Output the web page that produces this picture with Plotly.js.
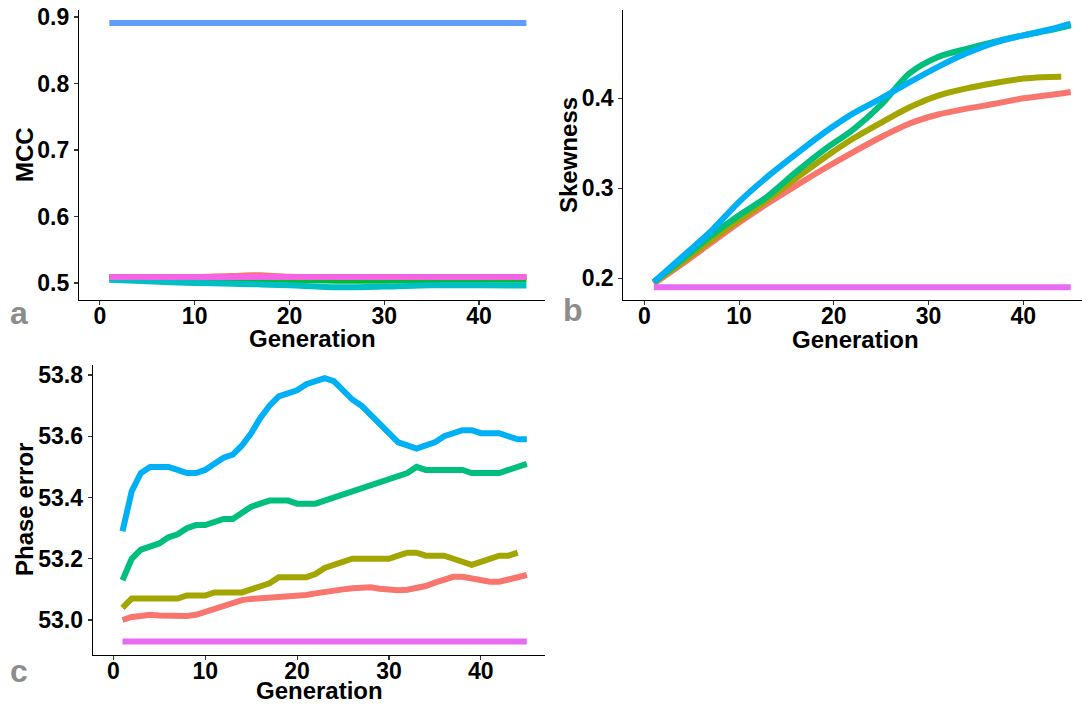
<!DOCTYPE html>
<html>
<head>
<meta charset="utf-8">
<script src="https://cdn.plot.ly/plotly-3.0.1.min.js"></script>
<style>
  html, body { margin: 0; padding: 0; background: #ffffff; overflow: hidden; }
  #chart { width: 1082px; height: 706px; }
</style>
</head>
<body>
<div id="chart"></div>
<script>
// ---------- Panel a: MCC per generation (six methods) ----------
const genA = [1, 5, 10, 14, 16, 17, 20, 25, 30, 35, 40, 45];
const mccRed     = [0.509, 0.509, 0.509, 0.5105, 0.5115, 0.5115, 0.5095, 0.509, 0.509, 0.509, 0.509, 0.509];
const mccOlive   = [0.509, 0.509, 0.509, 0.509, 0.509, 0.509, 0.509, 0.509, 0.509, 0.509, 0.509, 0.509];
const mccGreen   = [0.5075, 0.5075, 0.507, 0.506, 0.5055, 0.5052, 0.5045, 0.5035, 0.5035, 0.5045, 0.505, 0.505];
const mccTeal    = [0.505, 0.5025, 0.500, 0.4988, 0.4982, 0.4978, 0.4965, 0.4935, 0.4945, 0.4965, 0.4965, 0.4962];
const mccBlue    = [0.891, 0.891, 0.891, 0.891, 0.891, 0.891, 0.891, 0.891, 0.891, 0.891, 0.891, 0.891];
const mccMagenta = [0.509, 0.509, 0.509, 0.509, 0.509, 0.509, 0.509, 0.509, 0.509, 0.509, 0.509, 0.509];

// ---------- Panel b: skewness per generation ----------
const genB      = [1, 4, 7, 10, 13, 16, 19, 22, 25, 28, 31, 34, 37, 40, 43, 45];
const genBOlive = [1, 4, 7, 10, 13, 16, 19, 22, 25, 28, 31, 34, 37, 40, 42, 44];
const skewRed     = [0.194, 0.216, 0.239, 0.262, 0.283, 0.303, 0.322, 0.340, 0.357, 0.372, 0.382, 0.3885, 0.394, 0.400, 0.404, 0.407];
const skewOlive   = [0.195, 0.218, 0.242, 0.265, 0.287, 0.311, 0.334, 0.355, 0.373, 0.390, 0.403, 0.411, 0.417, 0.422, 0.4235, 0.424];
const skewGreen   = [0.196, 0.221, 0.247, 0.270, 0.291, 0.318, 0.343, 0.365, 0.393, 0.428, 0.446, 0.455, 0.463, 0.470, 0.476, 0.481];
const skewBlue    = [0.196, 0.224, 0.252, 0.285, 0.313, 0.338, 0.362, 0.383, 0.400, 0.418, 0.435, 0.450, 0.462, 0.470, 0.477, 0.483];
const skewMagenta = [0.190, 0.190, 0.190, 0.190, 0.190, 0.190, 0.190, 0.190, 0.190, 0.190, 0.190, 0.190, 0.190, 0.190, 0.190, 0.190];

// ---------- Panel c: phase error per generation ----------
const genC = Array.from({length: 45}, (_, i) => i + 1);
const phaseRed = [
  53.000, 53.010, 53.013, 53.017, 53.015, 53.014, 53.013, 53.013, 53.017, 53.027,
  53.038, 53.049, 53.058, 53.065, 53.069, 53.071, 53.072, 53.073, 53.075, 53.078,
  53.082, 53.087, 53.093, 53.096, 53.100, 53.104, 53.107, 53.107, 53.102, 53.098,
  53.097, 53.099, 53.103, 53.111, 53.122, 53.134, 53.141, 53.141, 53.136, 53.127,
  53.125, 53.125, 53.131, 53.136, 53.147];
const phaseOlive = [
  53.04, 53.07, 53.07, 53.07, 53.07, 53.07, 53.07, 53.08, 53.08, 53.08,
  53.09, 53.09, 53.09, 53.09, 53.10, 53.11, 53.12, 53.14, 53.14, 53.14,
  53.14, 53.15, 53.17, 53.18, 53.19, 53.20, 53.20, 53.20, 53.20, 53.20,
  53.21, 53.22, 53.22, 53.21, 53.21, 53.21, 53.20, 53.19, 53.18, 53.19,
  53.20, 53.21, 53.21, 53.22];
const phaseGreen = [
  53.13, 53.20, 53.23, 53.24, 53.25, 53.27, 53.28, 53.30, 53.31, 53.31,
  53.32, 53.33, 53.33, 53.35, 53.37, 53.38, 53.39, 53.39, 53.39, 53.38,
  53.38, 53.38, 53.39, 53.40, 53.41, 53.42, 53.43, 53.44, 53.45, 53.46,
  53.47, 53.48, 53.50, 53.49, 53.49, 53.49, 53.49, 53.49, 53.48, 53.48,
  53.48, 53.48, 53.49, 53.50, 53.51];
const phaseBlue = [
  53.29, 53.42, 53.48, 53.50, 53.50, 53.50, 53.49, 53.48, 53.48, 53.49,
  53.51, 53.53, 53.54, 53.57, 53.61, 53.66, 53.70, 53.73, 53.74, 53.75,
  53.77, 53.78, 53.79, 53.78, 53.75, 53.72, 53.70, 53.67, 53.64, 53.61,
  53.58, 53.57, 53.56, 53.57, 53.58, 53.60, 53.61, 53.62, 53.62, 53.61,
  53.61, 53.61, 53.60, 53.59, 53.59];
const phaseMagenta = genC.map(() => 52.93);

// Tick positions
const genTicks = [0, 10, 20, 30, 40];
const mccTicks = [0.5, 0.6, 0.7, 0.8, 0.9];
const skewTicks = [0.2, 0.3, 0.4];
const phaseTicks = [53.0, 53.2, 53.4, 53.6, 53.8];

// Palettes (six-hue for MCC, five-hue for the others)
const pal6 = ['#F8766D', '#B79F00', '#00BA38', '#00BFC4', '#619CFF', '#F564E3'];
const pal5 = ['#F8766D', '#A3A500', '#00BF7D', '#00B0F6', '#E76BF3'];

function line(x, y, color, xa, ya, shape) {
  return {
    type: 'scatter', mode: 'lines', x: x, y: y,
    xaxis: xa, yaxis: ya, showlegend: false, hoverinfo: 'skip',
    line: {color: color, width: 6, shape: shape || 'linear', smoothing: 0.8}
  };
}

const traces = [
  line(genA, mccRed,     pal6[0], 'x', 'y', 'spline'),
  line(genA, mccOlive,   pal6[1], 'x', 'y', 'spline'),
  line(genA, mccGreen,   pal6[2], 'x', 'y', 'spline'),
  line(genA, mccTeal,    pal6[3], 'x', 'y', 'spline'),
  line(genA, mccBlue,    pal6[4], 'x', 'y', 'spline'),
  line(genA, mccMagenta, pal6[5], 'x', 'y', 'spline'),

  line(genB,      skewRed,     pal5[0], 'x2', 'y2', 'spline'),
  line(genBOlive, skewOlive,   pal5[1], 'x2', 'y2', 'spline'),
  line(genB,      skewGreen,   pal5[2], 'x2', 'y2', 'spline'),
  line(genB,      skewBlue,    pal5[3], 'x2', 'y2', 'spline'),
  line(genB,      skewMagenta, pal5[4], 'x2', 'y2', 'spline'),

  line(genC, phaseRed,     pal5[0], 'x3', 'y3'),
  line(genC.slice(0, phaseOlive.length), phaseOlive, pal5[1], 'x3', 'y3'),
  line(genC, phaseGreen,   pal5[2], 'x3', 'y3'),
  line(genC, phaseBlue,    pal5[3], 'x3', 'y3'),
  line(genC, phaseMagenta, pal5[4], 'x3', 'y3')
];

const W = 1082, H = 706;
const FONT = 'Liberation Sans, Arial, Helvetica, sans-serif';
const tickFont = {family: FONT, size: 23, color: '#000000', weight: 700};
const titleFont = {family: FONT, size: 24, color: '#000000', weight: 700};
const letterFont = {family: FONT, size: 32, color: '#8C8C8C', weight: 700};

function axis(extra) {
  return Object.assign({
    showline: true, linecolor: '#000000', linewidth: 1.1,
    ticks: 'outside', ticklen: 4, tickwidth: 1.1, tickcolor: '#333333',
    showgrid: false, zeroline: false, fixedrange: true,
    tickfont: tickFont, automargin: false, tickmode: 'array'
  }, extra);
}
function xAxis(extra) {
  return axis(Object.assign({tickvals: genTicks, ticklabelstandoff: -9}, extra));
}

// Text placed in page pixels (x from left, y from top)
function label(text, px, py, font, angle, yanchor) {
  return {
    text: text, x: px / W, y: 1 - py / H, xref: 'paper', yref: 'paper',
    xanchor: 'center', yanchor: yanchor || 'middle', showarrow: false,
    textangle: angle || 0, font: font
  };
}

const layout = {
  width: W, height: H,
  margin: {l: 0, r: 0, t: 0, b: 0},
  paper_bgcolor: '#ffffff', plot_bgcolor: '#ffffff',
  showlegend: false,
  xaxis:  xAxis({domain: [0.0730, 0.5037], range: [-2.2, 46.96], anchor: 'y'}),
  yaxis:  axis({domain: [0.5751, 0.9858], range: [0.4744, 0.9105], anchor: 'x',
                tickvals: mccTicks, tickformat: '.1f'}),
  xaxis2: xAxis({domain: [0.5761, 1.0], range: [-2.22, 46.19], anchor: 'y2'}),
  yaxis2: axis({domain: [0.5751, 0.9858], range: [0.1759, 0.4981], anchor: 'x2',
                tickvals: skewTicks, tickformat: '.1f'}),
  xaxis3: xAxis({domain: [0.0857, 0.5037], range: [-2.24, 46.98], anchor: 'y3'}),
  yaxis3: axis({domain: [0.0722, 0.4830], range: [52.8857, 53.8327], anchor: 'x3',
                tickvals: phaseTicks, tickformat: '.1f'}),
  annotations: [
    // axis titles
    label('Generation', 312, 338, titleFont),
    label('MCC', 24, 155, titleFont, -90),
    label('Generation', 855, 339, titleFont),
    label('Skewness', 568, 155, titleFont, -90),
    label('Generation', 319, 706, titleFont, 0, 'bottom'),
    label('Phase error', 24, 510, titleFont, -90),
    // panel letters
    label('a', 18.5, 313, letterFont),
    label('b', 573.4, 310, letterFont),
    label('c', 18.5, 671, letterFont)
  ]
};

Plotly.newPlot('chart', traces, layout, {staticPlot: true, displayModeBar: false});
</script>
</body>
</html>
